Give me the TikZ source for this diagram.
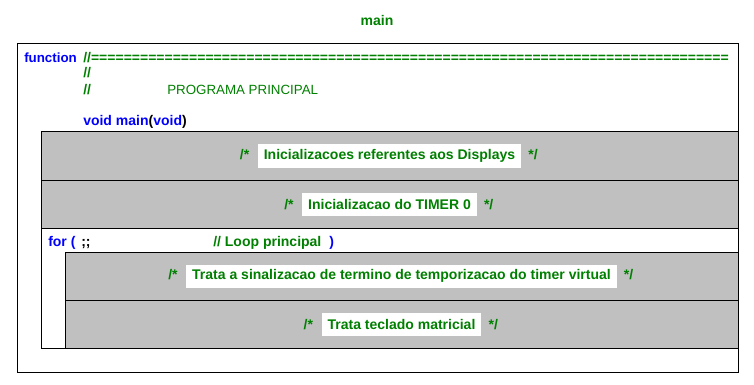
\documentclass[tikz,border=0pt]{standalone}
\usepackage{fontspec}
\setmainfont{Liberation Sans}
\usetikzlibrary{positioning}
\definecolor{cgreen}{RGB}{0,128,0}
\definecolor{cblue}{RGB}{0,0,255}
\definecolor{cgray}{RGB}{192,192,192}

\begin{document}
\begin{tikzpicture}[x=0.75pt, y=-0.75pt,
    frm/.style={draw, line width=0.75pt, inner sep=0pt, outer sep=0pt, anchor=north west},
    blk/.style={frm, fill=cgray, minimum width=522.75pt, minimum height=36pt},
    lblk/.style={frm, fill=cgray, minimum width=504.75pt, minimum height=36pt},
    txt/.style={inner sep=0pt, anchor=base west, font=\fontsize{10.5}{12}\selectfont\bfseries},
    cmt/.style={txt, text=cgreen},
    kw/.style={txt, text=cblue},
    lbl/.style={fill=white, text=cgreen, font=\fontsize{10.5}{12}\selectfont\bfseries, minimum height=17.25pt, inner xsep=4.5pt, inner ysep=0pt},
    dlm/.style={text=cgreen, font=\fontsize{10.5}{12}\selectfont\bfseries, inner sep=0pt}
]
\useasboundingbox (0,0) rectangle (754,385);

\node[cmt, anchor=base] (title) at (377,26) {main};

\node[frm, minimum width=540.75pt, minimum height=246pt] (outer) at (17,44) {};
\node[kw, font=\fontsize{10}{12}\selectfont\bfseries] (fn) at (24,62.5) {function};
\node[cmt] (rule) at (83,62.5) {//==============================================================================};
\node[cmt] (c2) at (83,78) {//};
\node[cmt] (c3) at (83,94) {//};
\node[cmt, font=\fontsize{10}{12}\selectfont] (prog) at (167,94) {PROGRAMA PRINCIPAL};
\node[kw] (sig) at (83,126) {void main\textcolor{black}{(}void\textcolor{black}{)}};

\node[blk] (disp) at (41,132) {};
\node[lbl] (displbl) at (disp.center) {Inicializacoes referentes aos Displays};
\node[dlm, base left=6pt of displbl] (dispo) {/*};
\node[dlm, base right=5pt of displbl] (dispc) {*/};

\node[blk] (tmr) at (41,180) {};
\node[lbl] (tmrlbl) at (tmr.center) {Inicializacao do TIMER 0};
\node[dlm, base left=6pt of tmrlbl] (tmro) {/*};
\node[dlm, base right=5pt of tmrlbl] (tmrc) {*/};

\node[frm, fill=white, minimum width=522.75pt, minimum height=90pt] (loop) at (41,228) {};
\node[kw] (for) at (48,246) {for (};
\node[txt] (semi) at (81,246) {;;};
\node[cmt] (loopc) at (213,246) {// Loop principal};
\node[kw] (close) at (329,246) {)};

\node[lblk] (virt) at (65,252) {};
\node[lbl] (virtlbl) at (virt.center) {Trata a sinalizacao de termino de temporizacao do timer virtual};
\node[dlm, base left=6pt of virtlbl] (virto) {/*};
\node[dlm, base right=5pt of virtlbl] (virtc) {*/};

\node[lblk] (tecl) at (65,300) {};
\node[lbl] (tecllbl) at (tecl.center) {Trata teclado matricial};
\node[dlm, base left=6pt of tecllbl] (teclo) {/*};
\node[dlm, base right=5pt of tecllbl] (teclc) {*/};
\end{tikzpicture}
\end{document}
